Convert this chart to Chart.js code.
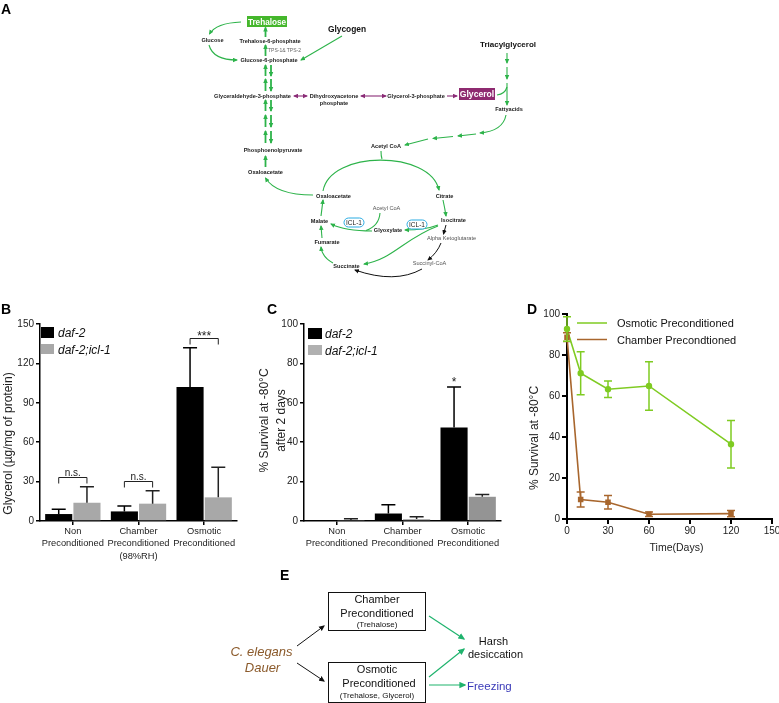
<!DOCTYPE html>
<html>
<head>
<meta charset="utf-8">
<script src="https://cdn.jsdelivr.net/npm/chart.js@4.4.0/dist/chart.umd.min.js"></script>
<style>
  html, body { margin: 0; padding: 0; background: #fff; overflow: hidden; }
  #page { position: relative; width: 779px; height: 703px; overflow: hidden; }
  canvas { position: absolute; }
  #overlay { position: absolute; left: 0; top: 0; pointer-events: none; }
</style>
</head>
<body>
<div id="page">
  <canvas id="chartB" width="250" height="274" style="left:0;top:296px"></canvas>
  <canvas id="chartC" width="254" height="274" style="left:256px;top:296px"></canvas>
  <canvas id="chartD" width="270" height="262" style="left:516px;top:296px"></canvas>

  <svg id="overlay" width="779" height="703" xmlns="http://www.w3.org/2000/svg" font-family="Liberation Sans, Arial, Helvetica, sans-serif">
    <defs>
      <marker id="mg" viewBox="0 0 10 10" refX="8" refY="5" markerWidth="5" markerHeight="5" orient="auto-start-reverse" markerUnits="userSpaceOnUse"><path d="M0,0.5 L10,5 L0,9.5 z" fill="#2db34a"/></marker>
      <marker id="mp" viewBox="0 0 10 10" refX="8" refY="5" markerWidth="5" markerHeight="5" orient="auto-start-reverse" markerUnits="userSpaceOnUse"><path d="M0,0.5 L10,5 L0,9.5 z" fill="#8b2c77"/></marker>
      <marker id="mk" viewBox="0 0 10 10" refX="8" refY="5" markerWidth="5" markerHeight="5" orient="auto" markerUnits="userSpaceOnUse"><path d="M0,0.5 L10,5 L0,9.5 z" fill="#111"/></marker>
      <marker id="me" viewBox="0 0 10 10" refX="8" refY="5" markerWidth="7" markerHeight="7" orient="auto" markerUnits="userSpaceOnUse"><path d="M0,0.5 L10,5 L0,9.5 z" fill="#1fb36d"/></marker>
      <marker id="mek" viewBox="0 0 10 10" refX="8" refY="5" markerWidth="6" markerHeight="6" orient="auto" markerUnits="userSpaceOnUse"><path d="M0,0.5 L10,5 L0,9.5 z" fill="#111"/></marker>
    </defs>

    <!-- panel letters -->
    <g font-weight="bold" font-size="14" fill="#000">
      <text x="1" y="14">A</text>
      <text x="1" y="314">B</text>
      <text x="267" y="314">C</text>
      <text x="527" y="314">D</text>
      <text x="280" y="580">E</text>
    </g>

    <!-- panel A: pathway -->
    <rect x="247" y="16" width="40" height="11" fill="#45b72c"/>
    <text x="267" y="24.8" font-size="8.2" font-weight="bold" fill="#fff" text-anchor="middle">Trehalose</text>
    <rect x="459" y="88" width="36" height="12" fill="#8e2a70"/>
    <text x="477" y="97.3" font-size="8.6" font-weight="bold" fill="#fff" text-anchor="middle">Glycerol</text>
    <text x="347" y="32" font-size="8.4" font-weight="bold" fill="#111" text-anchor="middle">Glycogen</text>
    <text x="508" y="47" font-size="8" font-weight="bold" fill="#111" text-anchor="middle">Triacylglycerol</text>

    <g font-size="5.6" font-weight="bold" fill="#1a1a1a" text-anchor="middle">
      <text x="212.5" y="42">Glucose</text>
      <text x="270" y="43">Trehalose-6-phosphate</text>
      <text x="269" y="62">Glucose-6-phosphate</text>
      <text x="252.5" y="98">Glyceraldehyde-3-phosphate</text>
      <text x="334" y="98">Dihydroxyacetone</text>
      <text x="334" y="105">phosphate</text>
      <text x="416" y="98">Glycerol-3-phosphate</text>
      <text x="509" y="111">Fattyacids</text>
      <text x="386" y="148">Acetyl CoA</text>
      <text x="273" y="152">Phosphoenolpyruvate</text>
      <text x="265.5" y="174">Oxaloacetate</text>
      <text x="333.5" y="198">Oxaloacetate</text>
      <text x="444.5" y="198">Citrate</text>
      <text x="453.5" y="222">Isocitrate</text>
      <text x="346.5" y="268">Succinate</text>
      <text x="327" y="244">Fumarate</text>
      <text x="319.5" y="223">Malate</text>
      <text x="388" y="232">Glyoxylate</text>
    </g>
    <g font-size="5.6" fill="#555" text-anchor="middle">
      <text x="451.5" y="240">Alpha Ketoglutarate</text>
      <text x="429.5" y="265">Succinyl-CoA</text>
      <text x="386.5" y="210">Acetyl CoA</text>
    </g>
    <text x="268" y="52" font-size="5" fill="#666">TPS-1&amp; TPS-2</text>

    <!-- thick vertical arrows -->
    <g fill="none" stroke="#2db34a" stroke-width="1.8" marker-end="url(#mg)">
      <path d="M265.5 37 L265.5 27.5"/>
      <path d="M265.5 56 L265.5 45"/>
      <path d="M265.5 167 L265.5 156"/>
      <path d="M265.5 76 L265.5 65"/><path d="M271 65 L271 76"/>
      <path d="M265.5 91 L265.5 79"/><path d="M271 79 L271 91"/>
      <path d="M265.5 111 L265.5 100"/><path d="M271 100 L271 111"/>
      <path d="M265.5 127 L265.5 115"/><path d="M271 115 L271 127"/>
      <path d="M265.5 143 L265.5 131"/><path d="M271 131 L271 143"/>
    </g>
    <!-- thin green arrows -->
    <g fill="none" stroke="#2db34a" stroke-width="1.1" marker-end="url(#mg)">
      <path d="M241 22 Q216 23 209.5 34"/>
      <path d="M209 45 Q213 60 237 60"/>
      <path d="M342 36 L301 60"/>
      <path d="M507 53 L507 63"/>
      <path d="M507 67 L507 79"/>
      <path d="M507 83 L507 105"/>
      <path d="M506 115 Q503 131 480 133"/>
      <path d="M476 134 L458 136"/>
      <path d="M453 136.5 L433 138.5"/>
      <path d="M428 139 L405 145"/>
      <path d="M313 195 Q276 195 265.5 178"/>
      <path d="M323 191 C330 150 430 150 439 190"/>
      <path d="M443 200 Q445 209 446 216"/>
      <path d="M333 263 Q322 257 321 247"/>
      <path d="M322 238 L321 226"/>
      <path d="M321 216 L323 200"/>
      <path d="M438 225 Q425 230 405 230"/>
      <path d="M438 226 C405 238 392 260 364 264"/>
      <path d="M372 231 Q345 231 331 224"/>
    </g>
    <g fill="none" stroke="#2db34a" stroke-width="1.1">
      <path d="M497 95 Q505 94 507 87"/>
      <path d="M381 151 Q381 156 382 159"/>
      <path d="M380 213 Q379 226 366 230.5"/>
    </g>
    <!-- purple arrows -->
    <g fill="none" stroke="#8b2c77" stroke-width="1.1">
      <path d="M294 96 L307 96" marker-start="url(#mp)" marker-end="url(#mp)"/>
      <path d="M361 96 L386 96" marker-start="url(#mp)" marker-end="url(#mp)"/>
      <path d="M447 96 L457 96" marker-end="url(#mp)"/>
    </g>
    <!-- black arrows -->
    <g fill="none" stroke="#111" stroke-width="1" marker-end="url(#mk)">
      <path d="M446 225 L443.5 234"/>
      <path d="M441 243 Q437 253 428 260"/>
      <path d="M422 269 Q395 284 355 270"/>
    </g>
    <!-- ICL-1 -->
    <g fill="#fff" stroke="#29abe2" stroke-width="1">
      <rect x="407" y="220" width="20" height="9" rx="4.5"/>
      <rect x="344" y="218" width="20" height="9" rx="4.5"/>
    </g>
    <g font-size="6.5" fill="#222" text-anchor="middle">
      <text x="417" y="227">ICL-1</text>
      <text x="354" y="225">ICL-1</text>
    </g>

    <!-- legends B, C -->
    <rect x="41" y="327" width="13" height="11" fill="#000"/>
    <rect x="41" y="344" width="13" height="10" fill="#a8a8a8"/>
    <g font-size="12" font-style="italic" fill="#111">
      <text x="58" y="337">daf-2</text>
      <text x="58" y="353.5">daf-2;icl-1</text>
      <text x="325" y="337.5">daf-2</text>
      <text x="325" y="354.5">daf-2;icl-1</text>
    </g>
    <rect x="308" y="328" width="14" height="11" fill="#000"/>
    <rect x="308" y="345" width="14" height="10" fill="#b0b0b0"/>

    <!-- legend D -->
    <line x1="577" y1="323" x2="607" y2="323" stroke="#7fcb22" stroke-width="1.5"/>
    <line x1="577" y1="339.5" x2="607" y2="339.5" stroke="#a8662d" stroke-width="1.5"/>
    <g font-size="11" fill="#111">
      <text x="617" y="327">Osmotic Preconditioned</text>
      <text x="617" y="343.5">Chamber Precondtioned</text>
    </g>

    <!-- panel E -->
    <g fill="none" stroke="#111" stroke-width="1">
      <rect x="328.5" y="592.5" width="97" height="38"/>
      <rect x="328.5" y="662.5" width="97" height="40"/>
    </g>
    <g font-size="11" fill="#111" text-anchor="middle">
      <text x="377" y="603">Chamber</text>
      <text x="377" y="617">Preconditioned</text>
      <text x="377" y="673">Osmotic</text>
      <text x="379" y="687">Preconditioned</text>
      <text x="493.5" y="645">Harsh</text>
      <text x="495.5" y="658">desiccation</text>
    </g>
    <g font-size="8" fill="#111" text-anchor="middle">
      <text x="377" y="627">(Trehalose)</text>
      <text x="377" y="698">(Trehalose, Glycerol)</text>
    </g>
    <g font-size="13" font-style="italic" fill="#8b5a2b" text-anchor="middle">
      <text x="261.5" y="656">C. elegans</text>
      <text x="262.5" y="672">Dauer</text>
    </g>
    <text x="467" y="690" font-size="11.5" fill="#3a3ab8">Freezing</text>
    <g fill="none" stroke="#111" stroke-width="1" marker-end="url(#mek)">
      <path d="M297 646 L324 626"/>
      <path d="M297 663 L324 681"/>
    </g>
    <g fill="none" stroke="#1fb36d" stroke-width="1.2" marker-end="url(#me)">
      <path d="M429 616 L464 639"/>
      <path d="M429 677 L464 649"/>
      <path d="M429 685 L465 685"/>
    </g>
  </svg>
</div>

<script>
// ---- data ----
const groupsB = [['Non', 'Preconditioned'], ['Chamber', 'Preconditioned', '(98%RH)'], ['Osmotic', 'Preconditioned']];
const groupsC = [['Non', 'Preconditioned'], ['Chamber', 'Preconditioned'], ['Osmotic', 'Preconditioned']];

const glycerolDaf2 = [5.3, 7.3, 102];
const glycerolDaf2Err = [3.7, 4.1, 30];
const glycerolIcl1 = [13.9, 13.2, 18];
const glycerolIcl1Err = [12.1, 9.8, 23];
const glycerolTicks = [0, 30, 60, 90, 120, 150];

const freezeDaf2 = [0.2, 3.8, 47.5];
const freezeDaf2Err = [0, 4.5, 20.5];
const freezeIcl1 = [0.5, 1.0, 12.3];
const freezeIcl1Err = [0.6, 1.2, 1.1];
const percentTicks = [0, 20, 40, 60, 80, 100];

const days = [0, 10, 30, 60, 120];
const osmoticSurvival = [92.7, 71.1, 63.3, 64.9, 36.5];
const osmoticErr = [6, 10.5, 4, 11.8, 11.6];
const chamberSurvival = [88.7, 9.5, 8.2, 2.3, 2.6];
const chamberErr = [2.1, 3.7, 3.3, 1.1, 1.5];
const dayTicks = [0, 30, 60, 90, 120, 150];

const FONT = '"Liberation Sans", Arial, Helvetica, sans-serif';
const GREEN = '#7fcb22';
const BROWN = '#a8662d';
Chart.defaults.font.family = FONT;
Chart.defaults.color = '#222';

// error bars, upper only for bars, both ways for lines
const errorBars = {
    id: 'errorBars',
    afterDatasetsDraw(chart, args, opts) {
        const ctx = chart.ctx;
        const y = chart.scales.y;
        chart.data.datasets.forEach((ds, i) => {
            if (!ds.errors) return;
            const meta = chart.getDatasetMeta(i);
            ctx.save();
            ctx.strokeStyle = ds.errorColor || '#111';
            ctx.lineWidth = opts.width || 1.5;
            meta.data.forEach((el, j) => {
                const raw = ds.data[j];
                const v = typeof raw === 'object' ? raw.y : raw;
                const e = ds.errors[j];
                if (!e) return;
                const yTop = y.getPixelForValue(v + e);
                const yBot = opts.both ? y.getPixelForValue(v - e) : el.y;
                const w = opts.cap || 6;
                ctx.beginPath();
                ctx.moveTo(el.x, yBot);
                ctx.lineTo(el.x, yTop);
                ctx.moveTo(el.x - w, yTop);
                ctx.lineTo(el.x + w, yTop);
                if (opts.both) {
                    ctx.moveTo(el.x - w, yBot);
                    ctx.lineTo(el.x + w, yBot);
                }
                ctx.stroke();
            });
            ctx.restore();
        });
    }
};

// significance brackets / stars
const sigMarks = {
    id: 'sigMarks',
    afterDatasetsDraw(chart, args, opts) {
        if (!opts.marks) return;
        const ctx = chart.ctx, y = chart.scales.y;
        const ds = chart.data.datasets;
        const m0 = chart.getDatasetMeta(0), m1 = chart.getDatasetMeta(1);
        opts.marks.forEach(mk => {
            const tops = ds.map(d => y.getPixelForValue(d.data[mk.index] + d.errors[mk.index]));
            ctx.save();
            ctx.fillStyle = '#222';
            ctx.strokeStyle = '#222';
            ctx.lineWidth = 1;
            ctx.textAlign = 'center';
            ctx.font = mk.font;
            if (mk.bracket) {
                const yb = Math.round(Math.min(...tops) - 10) + 0.5;
                const x1 = m0.data[mk.index].x, x2 = m1.data[mk.index].x;
                ctx.beginPath();
                ctx.moveTo(x1, yb + 6);
                ctx.lineTo(x1, yb);
                ctx.lineTo(x2, yb);
                ctx.lineTo(x2, yb + 6);
                ctx.stroke();
                ctx.fillText(mk.text, (x1 + x2) / 2, yb + mk.dy);
            } else {
                ctx.fillText(mk.text, m0.data[mk.index].x, tops[0] + mk.dy);
            }
            ctx.restore();
        });
    }
};

// axis titles placed relative to the chart area (the figure's titles sit off-centre)
const axisTitles = {
    id: 'axisTitles',
    afterDraw(chart, args, opts) {
        const ctx = chart.ctx, a = chart.chartArea;
        (opts.items || []).forEach(t => {
            ctx.save();
            ctx.font = t.font;
            ctx.fillStyle = '#222';
            ctx.textAlign = 'center';
            ctx.textBaseline = 'middle';
            const cx = t.rotate ? a.left + t.dx : (a.left + a.right) / 2 + t.dx;
            const cy = t.rotate ? (a.top + a.bottom) / 2 + t.dy : a.bottom + t.dy;
            ctx.translate(cx, cy);
            if (t.rotate) ctx.rotate(-Math.PI / 2);
            t.lines.forEach((line, k) => ctx.fillText(line, 0, k * (t.gap || 0)));
            ctx.restore();
        });
    }
};

function valueAxis(ticks, width, borderW, tickLen) {
    return {
        min: ticks[0],
        max: ticks[ticks.length - 1],
        afterBuildTicks: s => { s.ticks = ticks.map(v => ({ value: v })); },
        afterFit: s => { s.width = width; },
        border: { color: '#000', width: borderW },
        grid: { drawOnChartArea: false, color: '#000', tickLength: tickLen, lineWidth: borderW },
        ticks: { color: '#222', font: { size: 10 }, padding: 2 }
    };
}

function categoryAxis(height) {
    return {
        afterFit: s => { s.height = height; },
        border: { color: '#000', width: 1.5 },
        grid: { drawOnChartArea: false, offset: false, color: '#000', tickLength: 4, lineWidth: 1.5 },
        ticks: { color: '#222', font: { size: 9.3, lineHeight: 1.35 }, padding: 0, maxRotation: 0, autoSkip: false }
    };
}

// B: glycerol
new Chart(document.getElementById('chartB'), {
    type: 'bar',
    data: {
        labels: groupsB,
        datasets: [
            { label: 'daf-2', data: glycerolDaf2, errors: glycerolDaf2Err, backgroundColor: '#000', errorColor: '#000' },
            { label: 'daf-2;icl-1', data: glycerolIcl1, errors: glycerolIcl1Err, backgroundColor: '#a8a8a8', errorColor: '#222' }
        ]
    },
    options: {
        responsive: false,
        animation: false,
        layout: { padding: { top: 28, right: 13, left: 0, bottom: 0 } },
        categoryPercentage: 0.86,
        barPercentage: 0.96,
        scales: {
            x: categoryAxis(49),
            y: valueAxis(glycerolTicks, 40, 1.5, 4)
        },
        plugins: {
            legend: { display: false },
            tooltip: { enabled: false },
            errorBars: { cap: 7, width: 1.5 },
            sigMarks: {
                marks: [
                    { index: 0, bracket: true, text: 'n.s.', font: '10px ' + FONT, dy: -2 },
                    { index: 1, bracket: true, text: 'n.s.', font: '10px ' + FONT, dy: -2 },
                    { index: 2, bracket: true, text: '***', font: '12px ' + FONT, dy: 1 }
                ]
            },
            axisTitles: {
                items: [{ lines: ['Glycerol (µg/mg of protein)'], rotate: true, dx: -31.5, dy: 21, font: '12px ' + FONT }]
            }
        }
    },
    plugins: [errorBars, sigMarks, axisTitles]
});

// C: freezing survival
new Chart(document.getElementById('chartC'), {
    type: 'bar',
    data: {
        labels: groupsC,
        datasets: [
            { label: 'daf-2', data: freezeDaf2, errors: freezeDaf2Err, backgroundColor: '#000', errorColor: '#000' },
            { label: 'daf-2;icl-1', data: freezeIcl1, errors: freezeIcl1Err, backgroundColor: ['#b0b0b0', '#b0b0b0', '#949494'], errorColor: '#222' }
        ]
    },
    options: {
        responsive: false,
        animation: false,
        layout: { padding: { top: 28, right: 9, left: 0, bottom: 0 } },
        categoryPercentage: 0.86,
        barPercentage: 0.96,
        scales: {
            x: categoryAxis(49),
            y: valueAxis(percentTicks, 48, 1.5, 4)
        },
        plugins: {
            legend: { display: false },
            tooltip: { enabled: false },
            errorBars: { cap: 7, width: 1.5 },
            sigMarks: {
                marks: [
                    { index: 2, bracket: false, text: '*', font: '12px ' + FONT, dy: -1 }
                ]
            },
            axisTitles: {
                items: [{ lines: ['% Survival at -80°C', 'after 2 days'], rotate: true, dx: -39, dy: -2, gap: 17, font: '12px ' + FONT }]
            }
        }
    },
    plugins: [errorBars, sigMarks, axisTitles]
});

// D: survival over time
new Chart(document.getElementById('chartD'), {
    type: 'line',
    data: {
        datasets: [
            {
                label: 'Chamber Precondtioned',
                data: days.map((d, i) => ({ x: d, y: chamberSurvival[i] })),
                errors: chamberErr, errorColor: BROWN,
                borderColor: BROWN, backgroundColor: BROWN, borderWidth: 1.6,
                pointStyle: 'rect', pointRadius: 2.8, tension: 0, clip: false
            },
            {
                label: 'Osmotic Preconditioned',
                data: days.map((d, i) => ({ x: d, y: osmoticSurvival[i] })),
                errors: osmoticErr, errorColor: GREEN,
                borderColor: GREEN, backgroundColor: GREEN, borderWidth: 1.6,
                pointRadius: 2.4, tension: 0, clip: false
            }
        ]
    },
    options: {
        responsive: false,
        animation: false,
        layout: { padding: { top: 18, right: 14, left: 0, bottom: 0 } },
        scales: {
            x: {
                type: 'linear',
                min: dayTicks[0],
                max: dayTicks[dayTicks.length - 1],
                afterBuildTicks: s => { s.ticks = dayTicks.map(v => ({ value: v })); },
                afterFit: s => { s.height = 39; },
                border: { color: '#000', width: 2 },
                grid: { drawOnChartArea: false, color: '#000', tickLength: 5, lineWidth: 2 },
                ticks: { color: '#222', font: { size: 10 }, padding: 1 }
            },
            y: valueAxis(percentTicks, 51, 2, 5)
        },
        plugins: {
            legend: { display: false },
            tooltip: { enabled: false },
            errorBars: { cap: 4, width: 1.5, both: true },
            axisTitles: {
                items: [
                    { lines: ['% Survival at -80°C'], rotate: true, dx: -32, dy: 21.5, font: '12px ' + FONT },
                    { lines: ['Time(Days)'], rotate: false, dx: 7, dy: 29, font: '10.5px ' + FONT }
                ]
            }
        }
    },
    plugins: [errorBars, axisTitles]
});
</script>
</body>
</html>
